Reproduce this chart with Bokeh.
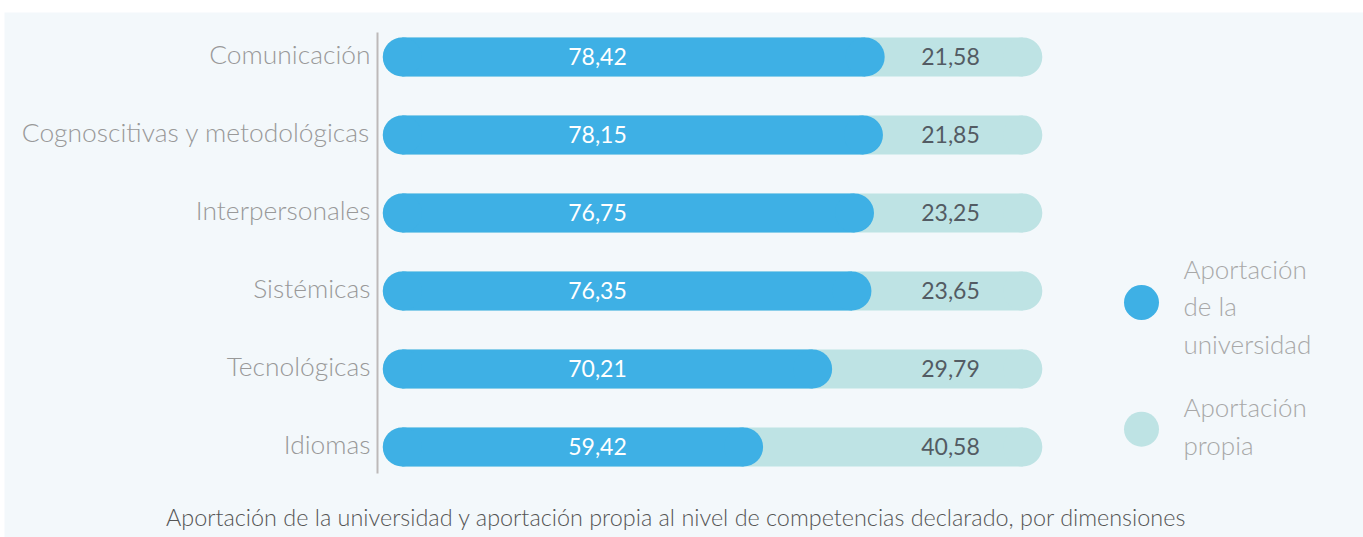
from bokeh.plotting import figure
from bokeh.models import ColumnDataSource, Range1d, Spacer
from bokeh.layouts import column, row
from bokeh.core.properties import value
from bokeh.embed import file_html
from bokeh.resources import INLINE

# ---- data ----
categories = ["Comunicación", "Cognoscitivas y metodológicas", "Interpersonales",
              "Sistémicas", "Tecnológicas", "Idiomas"]
universidad = [78.42, 78.15, 76.75, 76.35, 70.21, 59.42]
propia = [21.58, 21.85, 23.25, 23.65, 29.79, 40.58]
legend_lines = [["Aportación", "de la", "universidad"], ["Aportación", "propia"]]
caption = ("Aportación de la universidad y aportación propia al nivel de "
           "competencias declarado, por dimensiones")

# ---- style ----
BLUE = "#3eb0e5"
LIGHT = "#bee3e4"
BG = "#f3f8fb"
CAT_COLOR = "#999999"
LEG_COLOR = "#a8a8a8"
DARK = "#535b63"
CAP_COLOR = "#555555"
LIGHT_FONT = "Lato Light"
FONT = "Lato"

# ---- layout (page pixels) ----
PAGE_LEFT = 4
PAGE_TOP = 12
PAGE_RIGHT = 1363
PAGE_BOTTOM = 537
W = PAGE_RIGHT - PAGE_LEFT
H = PAGE_BOTTOM - PAGE_TOP
AXIS_PX = 377
AXIS_TOP_PX = 32
AXIS_BOT_PX = 473
ZERO_PX = 382.3        # page x of value 0
PX_PER_UNIT = 6.40
ROW0_PX = 56.5         # page y of first row centre
ROW_PX = 78
BAR_PX = 39
BASELINE_FIX = -10     # empirical shift for alphabetic baseline


def px_x(page_x):
    return (page_x - ZERO_PX) / PX_PER_UNIT


def px_y(page_y):
    return (page_y - ROW0_PX) / ROW_PX


xr = Range1d(px_x(PAGE_LEFT), px_x(PAGE_RIGHT))
yr = Range1d(px_y(PAGE_BOTTOM), px_y(PAGE_TOP))

ys = list(range(len(categories)))
r_u = BAR_PX / 2 / PX_PER_UNIT
bar_h = BAR_PX / ROW_PX


def fmt(v):
    return f"{v:.2f}".replace(".", ",")


src = ColumnDataSource(dict(
    y=ys,
    cat=categories,
    uni=universidad,
    pro=propia,
    total=[u + p for u, p in zip(universidad, propia)],
    start=[r_u] * len(ys),
    uni_end=[u - r_u for u in universidad],
    uni_lbl=[fmt(v) for v in universidad],
    pro_lbl=[fmt(v) for v in propia],
))

p = figure(width=W, height=H, x_range=xr, y_range=yr,
           output_backend="svg", toolbar_location=None,
           min_border=0)
p.background_fill_color = BG
p.border_fill_color = BG
p.outline_line_color = None
p.xgrid.visible = False
p.ygrid.visible = False
p.xaxis.visible = False
p.yaxis.visible = False

# category axis line
p.segment(x0=[px_x(AXIS_PX)], y0=[px_y(AXIS_TOP_PX)], x1=[px_x(AXIS_PX)],
          y1=[px_y(AXIS_BOT_PX)], line_color="#bdb9b9", line_width=2)

# category labels
p.text(x=px_x(370), y="y", text="cat", source=src,
       text_font=value(LIGHT_FONT), text_font_size="26.4px", text_color=CAT_COLOR,
       text_align="right", text_baseline="middle", y_offset=-3)

# light track (full 100 with rounded ends)
p.hbar(y="y", left="start", right="total", height=bar_h, source=src,
       fill_color=LIGHT, line_color=None)
p.scatter(x="start", y="y", size=BAR_PX, source=src, fill_color=LIGHT, line_color=None)
p.scatter(x="total", y="y", size=BAR_PX, source=src, fill_color=LIGHT, line_color=None)

# university bar (pill)
p.hbar(y="y", left="start", right="uni_end", height=bar_h, source=src,
       fill_color=BLUE, line_color=None)
p.scatter(x="start", y="y", size=BAR_PX, source=src, fill_color=BLUE, line_color=None)
p.scatter(x="uni_end", y="y", size=BAR_PX, source=src, fill_color=BLUE, line_color=None)

# value labels
p.text(x=px_x(597), y="y", text="uni_lbl", source=src,
       text_font=value(FONT), text_font_size="23px", text_color="#ffffff",
       text_align="center", text_baseline="middle", y_offset=-1)
p.text(x=px_x(950), y="y", text="pro_lbl", source=src,
       text_font=value(FONT), text_font_size="23px", text_color=DARK,
       text_align="center", text_baseline="middle", y_offset=-1)

# legend (custom)
leg_colors = [BLUE, LIGHT]
leg_circle_py = [302, 428.7]
leg_first_baseline = [278, 416.7]
LINE_H = 37.7
for color, cy, base, lines in zip(leg_colors, leg_circle_py, leg_first_baseline, legend_lines):
    p.scatter(x=[px_x(1141)], y=[px_y(cy)], size=35, fill_color=color, line_color=None)
    p.text(x=[px_x(1183)] * len(lines),
           y=[px_y(base + BASELINE_FIX + k * LINE_H) for k in range(len(lines))],
           text=lines, text_font=value(LIGHT_FONT), text_font_size="26px",
           text_color=LEG_COLOR, text_align="left", text_baseline="alphabetic")

# caption
p.text(x=[px_x(676)], y=[px_y(526 + BASELINE_FIX)], text=[caption],
       text_font=value(LIGHT_FONT), text_font_size="23.4px", text_color=CAP_COLOR,
       text_align="center", text_baseline="alphabetic")

layout = column(Spacer(height=PAGE_TOP, width=W), row(Spacer(width=PAGE_LEFT, height=H), p))
open("out.html", "w").write(file_html(layout, INLINE))
